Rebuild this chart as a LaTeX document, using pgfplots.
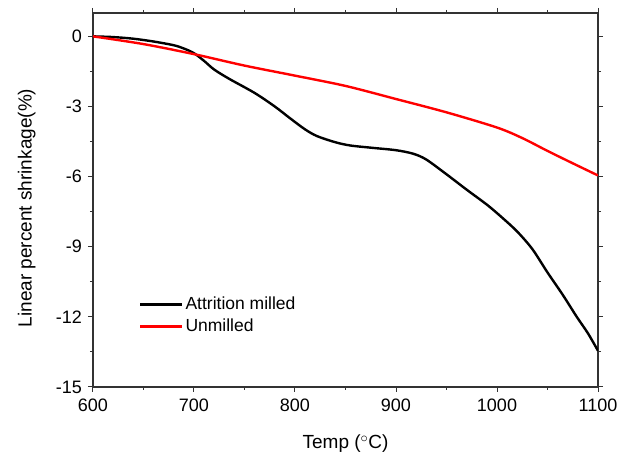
\documentclass[border=0pt]{standalone}
\usepackage{pgfplots}
\pgfplotsset{compat=1.18}
\usepackage{fontspec}
\setmainfont{Liberation Sans}
\begin{document}
\fontsize{18}{20}\selectfont
\begin{tikzpicture}
\path[use as bounding box] (-93pt,-65pt) rectangle (526pt,374pt+13pt);
\begin{axis}[
  at={(0,0)}, anchor=south west,
  scale only axis, width=505pt, height=374pt,
  xmin=600, xmax=1100, ymin=-15, ymax=1,
  xtick={600,700,...,1100},
  ytick={-15,-12,...,0},
  minor x tick num=1, minor y tick num=1,
  tick align=outside, tick pos=both,
  major tick length=5pt, minor tick length=3pt,
  every tick/.style={color=black!80, line width=1pt},
  axis line style={color=black!80, line width=1.2pt},
  /pgf/number format/assume math mode=true,
  /pgf/number format/1000 sep={},
  ticklabel style={font=\fontsize{18}{20}\selectfont},
  xticklabel style={yshift=-1pt},
  xlabel={Temp ($^\circ$C)},
  ylabel={Linear percent shrinkage(\%)},
  label style={font=\fontsize{19}{21}\selectfont},
  xlabel style={yshift=-11pt},
  ylabel style={yshift=8pt, xshift=-8pt},
  legend style={draw=none, fill=none, at={(0.085,0.252)}, anchor=north west,
    font=\fontsize{17.5}{20}\selectfont, row sep=2.5pt},
  legend cell align=left,
  legend image code/.code={\draw[#1, line width=2.4pt] (0pt,0pt) -- (42pt,0pt);},
]
\addplot[black, line width=2.4pt, smooth, tension=0.5] coordinates {
(600,0) (620,-0.03) (640,-0.1) (660,-0.22) (680,-0.38) (690,-0.52) (700,-0.72)
(710,-1.05) (720,-1.42) (735,-1.82) (760,-2.42) (780,-3.0) (795,-3.5)
(810,-3.98) (822,-4.27) (840,-4.53) (855,-4.67) (877,-4.77) (900,-4.87)
(917,-5.02) (930,-5.27) (950,-5.9) (970,-6.56) (990,-7.2) (1005,-7.75)
(1020,-8.35) (1035,-9.1) (1050,-10.1) (1065,-11.05) (1079,-12.0) (1090,-12.7) (1100,-13.45)
};
\addlegendentry{Attrition milled}
\addplot[red, line width=2.4pt, smooth, tension=0.5] coordinates {
(600,0) (650,-0.33) (700,-0.76) (750,-1.25) (800,-1.68) (850,-2.12) (900,-2.68)
(950,-3.25) (1000,-3.9) (1025,-4.35) (1050,-4.9) (1075,-5.43) (1100,-5.95)
};
\addlegendentry{Unmilled}
\end{axis}
\end{tikzpicture}
\end{document}
